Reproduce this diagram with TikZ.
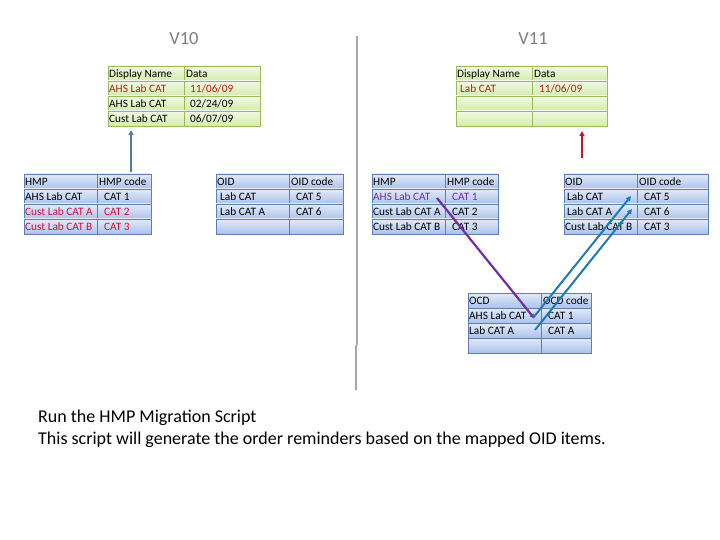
\documentclass[tikz,border=0pt]{standalone}
\usepackage{fontspec}
\setmainfont{Carlito}
\usetikzlibrary{arrows.meta}
\definecolor{gborder}{HTML}{9BBB59}
\definecolor{gtop}{HTML}{F1F9E4}
\definecolor{gbot}{HTML}{D3ECAE}
\definecolor{bborder}{HTML}{5B80B6}
\definecolor{btop}{HTML}{E2EAF8}
\definecolor{bbot}{HTML}{ABC2EC}
\definecolor{dred}{HTML}{B81E1E}
\definecolor{crim}{HTML}{D0103A}
\definecolor{purp}{HTML}{7030A0}
\definecolor{arrblue}{HTML}{1F7BB5}
\definecolor{slate}{HTML}{4F7BA8}
\definecolor{arrred}{HTML}{C0182A}
\definecolor{titlegray}{HTML}{7F7F7F}
\definecolor{divgray}{HTML}{A6A6A6}
\newcommand\mygrid[6]{%
  \foreach \r in {1,...,#5}{
    \path[#6] (#1,{#2+15*(\r-1)}) rectangle ++(#3,15);
    \path[#6] ({#1+#3},{#2+15*(\r-1)}) rectangle ++(#4,15);
  }}
\tikzset{
  gcell/.style={draw=gborder, line width=0.9pt, top color=gtop, bottom color=gbot},
  bcell/.style={draw=bborder, line width=0.9pt, top color=btop, bottom color=bbot},
  txt/.style={anchor=base west, inner sep=0pt, font=\fontsize{11.3}{12}\selectfont},
  ttl/.style={inner sep=0pt, text=titlegray, font=\fontsize{18.5}{20}\selectfont},
  body/.style={anchor=base west, inner sep=0pt, font=\fontsize{18}{20}\selectfont},
  arr/.style={-{Triangle[length=5pt,width=5pt]}, line width=2pt}
}
\begin{document}
\begin{tikzpicture}[x=1pt,y=-1pt]
\useasboundingbox[fill=white] (0,0) rectangle (720,540);
% titles
\node[ttl] (t10) at (184,39) {V10};
\node[ttl] (t11) at (533,39) {V11};
% divider
\draw[divgray, line width=1.2pt] (357,36) -- (357,345);
\draw[divgray, line width=1.2pt] (356,345) -- (356,390);
% grids
\mygrid{108}{66}{76}{76}{4}{gcell}
\mygrid{24}{174}{73}{54}{4}{bcell}
\mygrid{216}{174}{73}{54}{4}{bcell}
\mygrid{456}{66}{76}{75}{4}{gcell}
\mygrid{372}{174}{73}{53}{4}{bcell}
\mygrid{564}{174}{73}{71}{4}{bcell}
\mygrid{468}{293}{73}{50}{4}{bcell}
% V10 display
\foreach \i/\a/\b/\o in {0/{Display Name}/{Data}/2, 1/{\color{dred}AHS Lab CAT}/{\color{dred}11/06/09}/6, 2/{AHS Lab CAT}/{02/24/09}/6, 3/{Cust Lab CAT}/{06/07/09}/6}{
  \node[txt] (va\i) at (109,{77.5+15*\i}) {\a};
  \node[txt] (vb\i) at ({184+\o},{77.5+15*\i}) {\b};
}
% V10 HMP
\foreach \i/\a/\b/\o in {0/{HMP}/{HMP code}/2, 1/{AHS Lab CAT}/{CAT 1}/7, 2/{\color{crim}Cust Lab CAT A}/{\color{crim}CAT 2}/7, 3/{\color{crim}Cust Lab CAT B}/{\color{crim}CAT 3}/7}{
  \node[txt] (ha\i) at (25,{185.5+15*\i}) {\a};
  \node[txt] (hb\i) at ({97+\o},{185.5+15*\i}) {\b};
}
% V10 OID
\foreach \i/\a/\b/\o/\p in {0/{OID}/{OID code}/2/1, 1/{Lab CAT}/{CAT 5}/7/4, 2/{Lab CAT A}/{CAT 6}/7/4}{
  \node[txt] (oa\i) at ({216+\p},{185.5+15*\i}) {\a};
  \node[txt] (ob\i) at ({289+\o},{185.5+15*\i}) {\b};
}
% V11 display
\foreach \i/\a/\b/\o/\p in {0/{Display Name}/{Data}/2/1, 1/{\color{dred}Lab CAT}/{\color{dred}11/06/09}/7/4}{
  \node[txt] (wa\i) at ({456+\p},{77.5+15*\i}) {\a};
  \node[txt] (wb\i) at ({532+\o},{77.5+15*\i}) {\b};
}
% V11 HMP
\foreach \i/\a/\b/\o in {0/{HMP}/{HMP code}/2, 1/{\color{purp}AHS Lab CAT}/{\color{purp}CAT 1}/7, 2/{Cust Lab CAT A}/{CAT 2}/7, 3/{Cust Lab CAT B}/{CAT 3}/7}{
  \node[txt] (ka\i) at (373,{185.5+15*\i}) {\a};
  \node[txt] (kb\i) at ({445+\o},{185.5+15*\i}) {\b};
}
% V11 OID
\foreach \i/\a/\b/\o/\p in {0/{OID}/{OID code}/2/1, 1/{Lab CAT}/{CAT 5}/7/3, 2/{Lab CAT A}/{CAT 6}/7/3, 3/{Cust Lab CAT B}/{CAT 3}/7/1}{
  \node[txt] (pa\i) at ({564+\p},{185.5+15*\i}) {\a};
  \node[txt] (pb\i) at ({637+\o},{185.5+15*\i}) {\b};
}
% OCD
\foreach \i/\a/\b/\o in {0/{OCD}/{OCD code}/2, 1/{AHS Lab CAT}/{CAT 1}/7, 2/{Lab CAT A}/{CAT A}/7}{
  \node[txt] (ca\i) at (469,{304.5+15*\i}) {\a};
  \node[txt] (cb\i) at ({541+\o},{304.5+15*\i}) {\b};
}
% bottom text
\node[body] (l1) at (38,422) {Run the HMP Migration Script};
\node[body] (l2) at (38,444) {This script will generate the order reminders based on the mapped OID items.};
% connector end points
\coordinate (s1) at (131,172);
\coordinate (e1) at (131,130);
\coordinate (s2) at (582,158);
\coordinate (e2) at (582,131);
\coordinate (s3) at (437,198);
\coordinate (e3) at (534,318);
\coordinate (s4) at (533,318);
\coordinate (e4) at (631,196);
\coordinate (s5) at (535,330);
\coordinate (e5) at (632,209);
\draw[arr, slate] (s1) -- (e1);
\draw[arr, arrred] (s2) -- (e2);
\draw[arr, purp, line width=2.2pt, -{Triangle[length=4pt,width=4.5pt]}] (s3) -- (e3);
\draw[arr, arrblue] (s4) -- (e4);
\draw[arr, arrblue] (s5) -- (e5);
\end{tikzpicture}
\end{document}
